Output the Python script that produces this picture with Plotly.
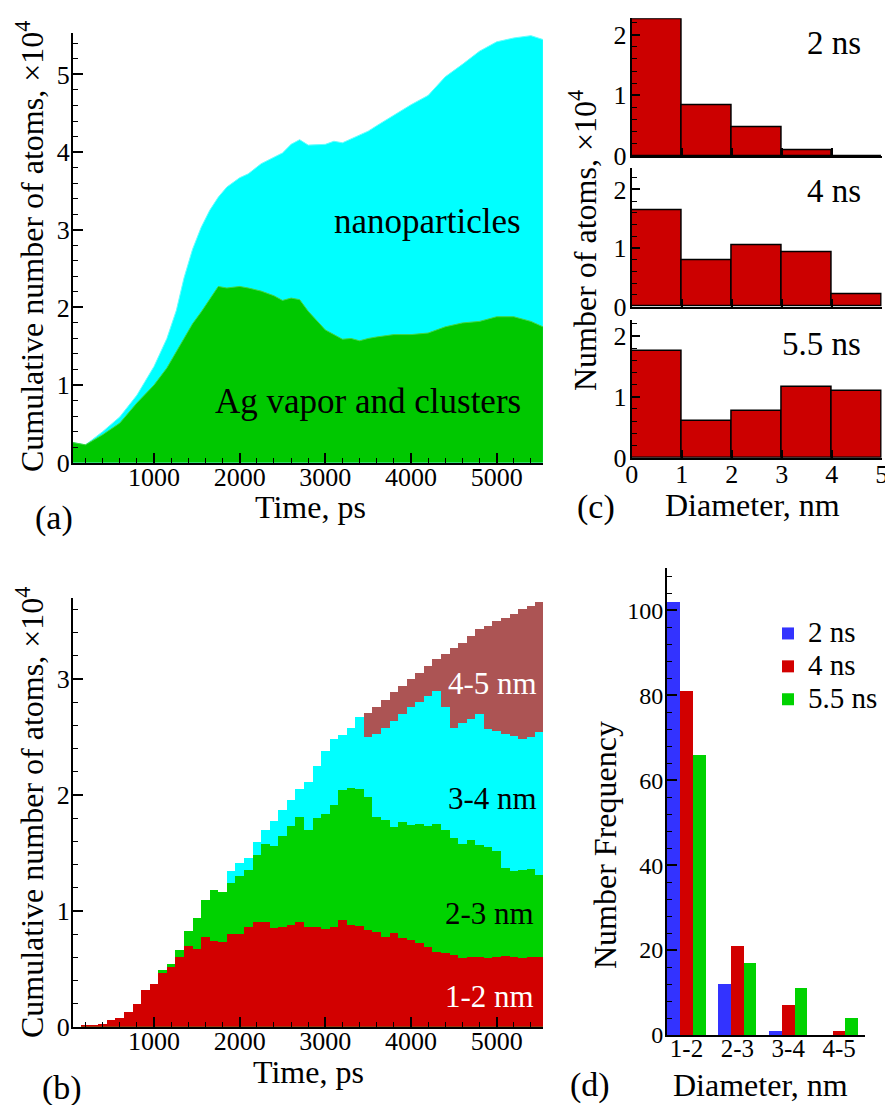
import plotly.graph_objects as go

W, H = 893, 1105
OFF = 8  # default page margin of the html body
FW, FH = W - OFF, H - OFF
FONT = "Liberation Serif, Times New Roman, serif"

# ---------------- Panel (a): stacked areas ----------------
time_a = [50, 200, 400, 600, 800, 1000, 1150, 1260, 1350, 1450, 1550, 1650, 1750, 1850,
          2000, 2100, 2250, 2400, 2500, 2600, 2700, 2800, 3000, 3100, 3200, 3300, 3400,
          3500, 3600, 3800, 4000, 4200, 4300, 4400, 4600, 4800, 5000, 5200, 5400, 5540]
total_a = [0.26, 0.23, 0.40, 0.59, 0.87, 1.24, 1.60, 1.96, 2.38, 2.75, 3.03, 3.25, 3.42, 3.55,
           3.67, 3.72, 3.85, 3.93, 3.99, 4.10, 4.16, 4.09, 4.10, 4.14, 4.12, 4.17, 4.22,
           4.27, 4.34, 4.48, 4.61, 4.73, 4.85, 4.97, 5.13, 5.30, 5.42, 5.47, 5.50, 5.45]
vapor_a = [0.26, 0.23, 0.36, 0.51, 0.77, 1.00, 1.22, 1.43, 1.60, 1.79, 1.94, 2.10, 2.27, 2.25,
           2.27, 2.25, 2.21, 2.15, 2.09, 2.12, 2.10, 1.95, 1.71, 1.65, 1.59, 1.60, 1.57,
           1.60, 1.62, 1.65, 1.65, 1.67, 1.71, 1.75, 1.80, 1.82, 1.88, 1.88, 1.82, 1.75]

# ---------------- Panel (b): cumulative stepped bars (100 ps bins) ----------------
time_b = [200, 300, 400, 500, 600, 700, 800, 900, 1000, 1100, 1200, 1300, 1400, 1500,
          1600, 1700, 1800, 1900, 2000, 2100, 2200, 2300, 2400, 2500, 2600, 2700, 2800,
          2900, 3000, 3100, 3200, 3300, 3400, 3500, 3600, 3700, 3800, 3900, 4000, 4100,
          4200, 4300, 4400, 4500, 4600, 4700, 4800, 4900, 5000, 5100, 5200, 5300, 5400, 5500]
cum_1_2 = [0.012, 0.015, 0.022, 0.057, 0.078, 0.124, 0.20, 0.317, 0.366, 0.46, 0.512, 0.604,
           0.70, 0.672, 0.771, 0.743, 0.728, 0.80, 0.80, 0.858, 0.90, 0.90, 0.85, 0.86, 0.88,
           0.90, 0.86, 0.86, 0.84, 0.86, 0.92, 0.88, 0.87, 0.835, 0.82, 0.777, 0.806, 0.765,
           0.745, 0.722, 0.686, 0.648, 0.634, 0.62, 0.591, 0.60, 0.604, 0.59, 0.604, 0.61,
           0.60, 0.59, 0.60, 0.60]
cum_2_3 = [0.012, 0.015, 0.022, 0.057, 0.078, 0.124, 0.20, 0.317, 0.366, 0.49, 0.54, 0.66,
           0.83, 0.936, 1.09, 1.18, 1.16, 1.24, 1.30, 1.353, 1.483, 1.578, 1.56, 1.65, 1.733,
           1.81, 1.694, 1.80, 1.835, 1.915, 2.044, 2.06, 2.05, 1.986, 1.81, 1.78, 1.727, 1.77,
           1.74, 1.75, 1.73, 1.75, 1.70, 1.63, 1.58, 1.61, 1.57, 1.55, 1.52, 1.37,
           1.34, 1.35, 1.36, 1.31]
cum_3_4 = [0.012, 0.015, 0.022, 0.057, 0.078, 0.124, 0.20, 0.317, 0.366, 0.49, 0.54, 0.66,
           0.83, 0.936, 1.09, 1.18, 1.16, 1.34, 1.41, 1.46, 1.59, 1.70, 1.776, 1.87, 1.96,
           2.05, 2.11, 2.25, 2.38, 2.48, 2.52, 2.577, 2.67, 2.50, 2.53, 2.58, 2.64, 2.70,
           2.76, 2.80, 2.85, 2.90, 2.76, 2.58, 2.62, 2.66, 2.70, 2.57, 2.55, 2.53,
           2.51, 2.48, 2.50, 2.54]
cum_4_5 = [None] * 33 + [2.71, 2.76, 2.82, 2.885, 2.94, 3.00, 3.055, 3.115, 3.17, 3.22,
                         3.27, 3.315, 3.37, 3.43, 3.46, 3.50, 3.53, 3.565, 3.605, 3.635, 3.665]

# ---------------- Panel (c): histograms ----------------
diam_centers = [0.5, 1.5, 2.5, 3.5, 4.5]
atoms_2ns = [2.25, 0.83, 0.47, 0.10, 0.0]
atoms_4ns = [1.64, 0.79, 1.05, 0.93, 0.22]
atoms_55ns = [1.75, 0.61, 0.77, 1.16, 1.09]
c_labels = ["2 ns", "4 ns", "5.5 ns"]

# ---------------- Panel (d): number frequency ----------------
diam_cats = ["1-2", "2-3", "3-4", "4-5"]
freq_2ns = [102, 12, 1, 0]
freq_4ns = [81, 21, 7, 1]
freq_55ns = [66, 17, 11, 4]
d_names = ["2 ns", "4 ns", "5.5 ns"]

RED = "#d20000"
GREEN_A = "#00c800"
GREEN = "#00d200"
CYAN = "#00ffff"
BROWN = "#ac5454"
BLUE = "#3333ff"

fig = go.Figure()

# (a)
fig.add_trace(go.Scatter(x=time_a, y=total_a, mode="lines", fill="tozeroy",
                         line=dict(color="#66ffff", width=1), fillcolor=CYAN,
                         xaxis="x", yaxis="y", showlegend=False))
fig.add_trace(go.Scatter(x=time_a, y=vapor_a, mode="lines", fill="tozeroy",
                         line=dict(color="#44d444", width=1), fillcolor=GREEN_A,
                         xaxis="x", yaxis="y", showlegend=False))

# (b) overlayed cumulative bars: outermost first
for vals, col in [(cum_4_5, BROWN), (cum_3_4, CYAN), (cum_2_3, GREEN), (cum_1_2, RED)]:
    fig.add_trace(go.Bar(x=time_b, y=vals, width=100, marker=dict(color=col, line=dict(width=0)),
                         xaxis="x2", yaxis="y2", showlegend=False))

# (c)
for i, vals in enumerate([atoms_2ns, atoms_4ns, atoms_55ns]):
    fig.add_trace(go.Bar(x=diam_centers, y=vals, width=1,
                         marker=dict(color="#cc0000", line=dict(color="black", width=1.5)),
                         xaxis="x%d" % (3 + i), yaxis="y%d" % (3 + i), showlegend=False))

# (d)
for vals, col, name, off in [(freq_2ns, BLUE, d_names[0], -0.375), (freq_4ns, RED, d_names[1], -0.125),
                             (freq_55ns, GREEN, d_names[2], 0.125)]:
    fig.add_trace(go.Bar(x=diam_cats, y=vals, width=0.25, offset=off,
                         name='<span style="font-size:29px">%s</span>' % name,
                         marker=dict(color=col, line=dict(width=0)),
                         xaxis="x6", yaxis="y6", showlegend=True))


def px_x(p):
    return (p - OFF) / FW


def px_y(p):
    return 1 - (p - OFF) / FH


TICKF = dict(family=FONT, size=26, color="black")

base = dict(showgrid=False, zeroline=False, showline=True, linecolor="black", linewidth=2,
            ticks="inside", tickcolor="black", tickwidth=2, ticklen=10, tickfont=TICKF,
            automargin=False)


def ax(**kw):
    d = dict(base)
    d.update(kw)
    return d


def minor(dt):
    return dict(ticks="inside", ticklen=5, tickwidth=1, tickcolor="black", dtick=dt, showgrid=False)


layout = dict(
    width=FW, height=FH, margin=dict(l=0, r=0, t=0, b=0),
    paper_bgcolor="white", plot_bgcolor="rgba(0,0,0,0)",
    barmode="overlay", bargap=0,
    font=dict(family=FONT, color="black"),
    # (a)
    xaxis=ax(domain=[px_x(73), px_x(543)], range=[54, 5541], anchor="y", dtick=1000, tick0=0,
             minor=minor(200), ticklabelstandoff=-10),
    yaxis=ax(domain=[px_y(462.7), px_y(33.3)], range=[0, 5.53], anchor="x", dtick=1, tick0=0,
             minor=minor(0.2), ticklabelstandoff=-4),
    # (b)
    xaxis2=ax(domain=[px_x(73), px_x(543)], range=[54, 5541], anchor="y2", dtick=1000, tick0=0,
              minor=minor(200), ticklabelstandoff=-10),
    yaxis2=ax(domain=[px_y(1026.7), px_y(598)], range=[0, 3.7], anchor="x2", dtick=1, tick0=0,
              minor=minor(0.2), ticklabelstandoff=-4),
    legend=dict(x=px_x(768), y=px_y(612), xanchor="left", yanchor="top",
                font=dict(family="Liberation Serif", size=23, color="black"), bgcolor="rgba(0,0,0,0)",
                tracegroupgap=0, itemwidth=30),
)

c_dom = [(156, 18.3, 2.27), (306.7, 168.3, 2.36), (457.7, 320, 2.26)]
for i, (bot, top, ymax) in enumerate(c_dom):
    xn = "xaxis%d" % (3 + i)
    yn = "yaxis%d" % (3 + i)
    layout[xn] = ax(domain=[px_x(631.7), px_x(881.7)], range=[0, 5], anchor="y%d" % (3 + i),
                    dtick=1, tick0=0, ticklen=8, showticklabels=(i == 2), ticklabelstandoff=-8)
    layout[yn] = ax(domain=[px_y(bot), px_y(top)], range=[0, ymax], anchor="x%d" % (3 + i),
                    dtick=1, tick0=0, ticklen=8, minor=minor(0.2), ticklabelstandoff=-2)

layout["xaxis6"] = ax(domain=[px_x(667), px_x(865)], range=[-0.384, 3.51], anchor="y6",
                      type="category", ticks="", ticklen=0, ticklabelstandoff=-10,
                      tickfont=dict(family=FONT, size=25, color="black"))
layout["yaxis6"] = ax(domain=[px_y(1035), px_y(568)], range=[0, 110], anchor="x6", dtick=20, tick0=0,
                      minor=minor(4), ticklabelstandoff=-3,
                      tickfont=dict(family=FONT, size=24, color="black"))

fig.update_layout(**layout)

ann = []


def note(text, x, y, size=32, color="black", xanchor="center", angle=0):
    ann.append(dict(text=text, x=px_x(x), y=px_y(y), xref="paper", yref="paper", showarrow=False,
                    xanchor=xanchor, yanchor="middle", textangle=angle,
                    font=dict(family=FONT, size=size, color=color)))


# axis titles
note("Cumulative number of atoms, ×10<sup>4</sup>", 30, 247, 32, angle=-90)
note("Cumulative number of atoms, ×10<sup>4</sup>", 30, 813, 32, angle=-90)
note("Time, ps", 310, 507, 32)
note("Time, ps", 308, 1072, 32)
note("Number of atoms, ×10<sup>4</sup>", 583, 241, 32, angle=-90)
note("Diameter, nm", 752, 505, 32)
note("Number Frequency", 605, 845, 32, angle=-90)
note("Diameter, nm", 760, 1085, 32)

# in-plot labels
note("nanoparticles", 427, 221, 35)
note("Ag vapor and clusters", 368, 401, 35)
note("4-5 nm", 539, 683, 31, "white", "right")
note("3-4 nm", 539, 798, 31, "black", "right")
note("2-3 nm", 536, 913, 31, "black", "right")
note("1-2 nm", 536, 996, 31, "white", "right")
for lab, yy in zip(c_labels, [43, 191, 344]):
    note(lab, 863, yy, 33, "black", "right")
note("(a)", 54, 518, 34)
note("(b)", 62, 1088, 34)
note("(c)", 596, 507, 34)
note("(d)", 590, 1085, 34)
fig.update_layout(annotations=ann)

fig.write_html("out.html")
